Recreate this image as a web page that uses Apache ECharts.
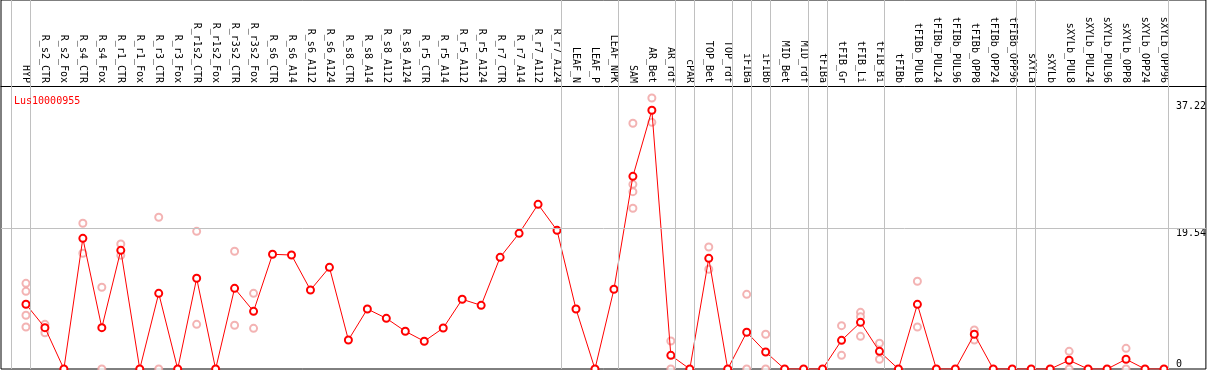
<!DOCTYPE html>
<html>
<head>
<meta charset="utf-8">
<script src="https://cdn.jsdelivr.net/npm/echarts@6/dist/echarts.min.js"></script>
<style>
html,body{margin:0;padding:0;background:#fff;}
#chart{width:1209px;height:370px;}
</style>
</head>
<body>
<div id="chart"></div>
<script>
const geneName = 'Lus10000955';
const categories = ['HYP','R_s2_CTR','R_s2_Fox','R_s4_CTR','R_s4_Fox','R_r1_CTR','R_r1_Fox','R_r3_CTR','R_r3_Fox','R_r1s2_CTR','R_r1s2_Fox','R_r3s2_CTR','R_r3s2_Fox','R_s6_CTR','R_s6_A14','R_s6_A112','R_s6_A124','R_s8_CTR','R_s8_A14','R_s8_A112','R_s8_A124','R_r5_CTR','R_r5_A14','R_r5_A112','R_r5_A124','R_r7_CTR','R_r7_A14','R_r7_A112','R_r7_A124','LEAF_N','LEAF_P','LEAF_NPK','SAM','AR_Bet','AR_rdf','cPAR','TOP_Bet','TOP_rdf','iFIBa','iFIBb','MID_Bet','MID_rdf','tFIBa','tFIB_Gr','tFIB_Li','tFIB_Bi','tFIBb','tFIBb_PUL8','tFIBb_PUL24','tFIBb_PUL96','tFIBb_OPP8','tFIBb_OPP24','tFIBb_OPP96','sXYLa','sXYLb','sXYLb_PUL8','sXYLb_PUL24','sXYLb_PUL96','sXYLb_OPP8','sXYLb_OPP24','sXYLb_OPP96'];
const meanValues = [8.99,5.74,0,18.15,5.74,16.48,0,10.51,0,12.6,0,11.2,8.01,15.93,15.83,10.97,14.12,4.03,8.33,7.04,5.24,3.85,5.69,9.68,8.84,15.51,18.84,22.87,19.26,8.33,0,11.07,26.76,35.93,1.9,0,15.37,0,5.1,2.36,0,0,0,3.98,6.48,2.45,0,8.98,0,0,4.82,0,0,0,0,1.21,0,0,1.35,0,0];
const repCategory = ['HYP','HYP','HYP','HYP','R_s2_CTR','R_s2_CTR','R_s4_CTR','R_s4_CTR','R_s4_Fox','R_s4_Fox','R_r1_CTR','R_r1_CTR','R_r3_CTR','R_r3_CTR','R_r1s2_CTR','R_r1s2_CTR','R_r3s2_CTR','R_r3s2_CTR','R_r3s2_Fox','R_r3s2_Fox','SAM','SAM','SAM','SAM','AR_Bet','AR_Bet','AR_rdf','AR_rdf','TOP_Bet','TOP_Bet','iFIBa','iFIBa','iFIBb','iFIBb','tFIB_Gr','tFIB_Gr','tFIB_Li','tFIB_Li','tFIB_Li','tFIB_Bi','tFIB_Bi','tFIBb_PUL8','tFIBb_PUL8','tFIBb_OPP8','tFIBb_OPP8','sXYLb_PUL8','sXYLb_PUL8','sXYLb_OPP8','sXYLb_OPP8'];
const repValues = [11.9,10.79,7.46,5.83,6.2,5.04,20.24,16.07,11.35,0,17.36,15.79,21.07,0,19.12,6.2,16.35,6.07,10.51,5.65,34.13,25.65,24.63,22.32,37.64,34.26,3.89,0,16.94,13.85,10.37,0,4.82,0,6.02,1.9,7.87,7.27,4.54,3.57,1.35,12.18,5.83,5.42,4.03,2.45,0,2.87,0];
const groupEnds = ['', 'HYP','R_r7_A124','LEAF_NPK','AR_rdf','cPAR','TOP_rdf','iFIBa','iFIBb','MID_rdf','tFIBa','tFIB_Bi','tFIBb_OPP96','sXYLa','sXYLb_OPP96'];
const yTickLabels = [19.54, 37.22];
const yZeroLabel = [0];
const refLine = 19.54;

const mono = 'DejaVu Sans Mono';
const idxOf = n => n === '' ? -1 : categories.indexOf(n);
const chart = echarts.init(document.getElementById('chart'));
const xMin = -25/19, xMax = 1182/19;
const yMax = 369/7.2;
chart.setOption({
  animation: false,
  backgroundColor: '#fff',
  title: {text: geneName, left: 9, top: 91, textStyle: {color: '#ff0000', fontSize: 10, fontFamily: mono, fontWeight: 'normal'}},
  grid: {left: 1, right: 1, top: 0, bottom: 1, show: true, borderColor: '#000', borderWidth: 1, backgroundColor: 'transparent'},
  xAxis: {
    type: 'value', min: xMin, max: xMax, position: 'top', offset: -86,
    axisLine: {show: true, onZero: false, lineStyle: {color: '#000', width: 1}},
    axisTick: {show: false}, splitLine: {show: false},
    axisLabel: {rotate: 90, margin: 3, fontSize: 10, fontFamily: mono, color: '#000',
      customValues: categories.map((c, i) => i), formatter: v => categories[Math.round(v)] || ''}
  },
  yAxis: [{
    type: 'value', min: 0, max: yMax, position: 'right',
    axisLine: {show: false}, axisTick: {show: false}, splitLine: {show: false},
    axisLabel: {inside: true, align: 'left', margin: 30, verticalAlign: 'top', fontSize: 10, fontFamily: mono, color: '#000',
      customValues: yTickLabels, formatter: v => v.toFixed(2)}
  }, {
    type: 'value', min: 0, max: yMax, position: 'right',
    axisLine: {show: false}, axisTick: {show: false}, splitLine: {show: false},
    axisLabel: {inside: true, align: 'left', margin: 30, verticalAlign: 'bottom', fontSize: 10, fontFamily: mono, color: '#000',
      customValues: yZeroLabel, formatter: v => String(v)}
  }],
  series: [{
    type: 'line', data: [], z: 1, silent: true,
    markLine: {silent: true, symbol: 'none', label: {show: false},
      lineStyle: {color: '#c0c0c0', width: 1, type: 'solid'},
      data: groupEnds.map(n => ({xAxis: idxOf(n) + 0.23})).concat([{yAxis: refLine}])}
  }, {
    type: 'scatter', z: 2, symbol: 'emptyCircle', symbolSize: 7,
    itemStyle: {color: '#f0a0a0', borderColor: '#f0a0a0', borderWidth: 1.2},
    data: repCategory.map((c, i) => [idxOf(c), repValues[i]])
  }, {
    type: 'line', z: 3, symbol: 'emptyCircle', symbolSize: 7,
    lineStyle: {color: '#ff0000', width: 1},
    itemStyle: {color: '#ff0000', borderColor: '#ff0000', borderWidth: 1.3},
    data: meanValues.map((v, i) => [i, v])
  }]
});
</script>
</body>
</html>
